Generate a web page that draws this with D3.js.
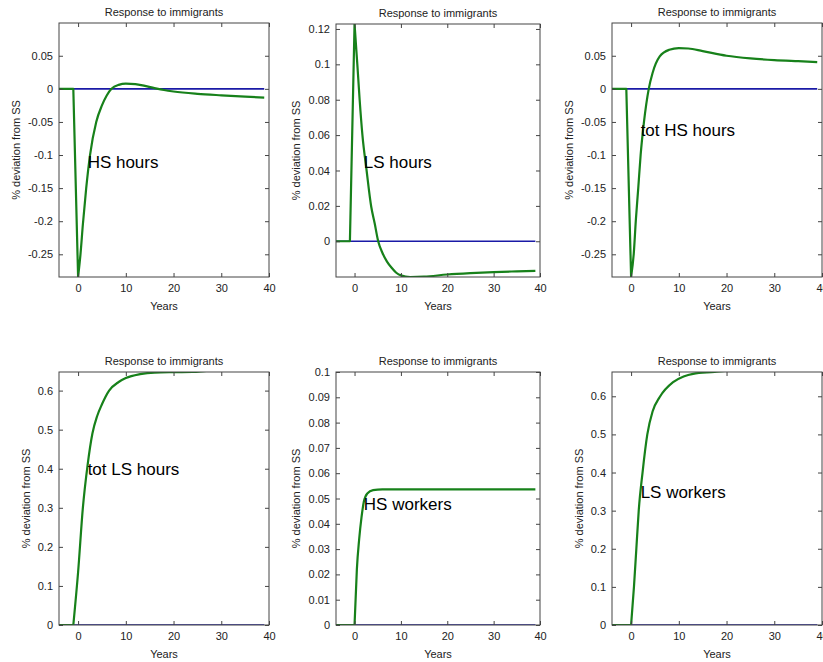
<!DOCTYPE html>
<html>
<head>
<meta charset="utf-8">
<script src="https://cdn.jsdelivr.net/npm/d3@7/dist/d3.min.js"></script>
<style>
  body { margin: 0; background: #fff; }
  svg { display: block; font-family: "Liberation Sans", Arial, sans-serif; }
  .tick text { fill: #222; font-size: 11px; }
  .tick line { stroke: #444; }
</style>
</head>
<body>
<svg id="chart" width="823" height="662"></svg>
<script>
// values (years, % deviation from SS)
const hsHoursX = [-4, -1, 0, 0.5, 1, 1.7, 2.5, 3.8, 5, 6, 7, 8.5, 10, 12, 14, 16, 18, 20, 25, 30, 35, 39]
const hsHoursY = [0, 0, -0.284, -0.25, -0.205, -0.15, -0.10, -0.05, -0.025, -0.01, 0, 0.006, 0.0078, 0.0072, 0.0045, 0.0012, -0.0018, -0.004, -0.0075, -0.0098, -0.0118, -0.0132]

const lsHoursX = [-4, -1, 0, 0.6, 1.1, 1.7, 2.6, 3.6, 4.35, 5.1, 6, 7, 8, 9, 10, 12, 15, 20, 25, 30, 35, 39]
const lsHoursY = [0, 0, 0.1228, 0.1, 0.08, 0.06, 0.04, 0.0195, 0.01, 0, -0.0065, -0.0115, -0.015, -0.0178, -0.0193, -0.0202, -0.0200, -0.0188, -0.0180, -0.0174, -0.0170, -0.0167]

const totHsHoursX = [-4, -1, 0, 0.56, 1, 1.5, 2, 2.7, 3.7, 4.5, 6, 8, 10, 12, 15, 20, 25, 30, 35, 39]
const totHsHoursY = [0, 0, -0.284, -0.249, -0.198, -0.15, -0.1, -0.05, 0, 0.024, 0.049, 0.059, 0.0616, 0.061, 0.057, 0.050, 0.046, 0.0435, 0.0418, 0.0405]

const totLsHoursX = [-4, -1, 0, 1, 2, 3, 4, 5, 6.5, 8.5, 10, 13, 16, 20, 24, 27, 30, 39]
const totLsHoursY = [0, 0, 0.135, 0.30, 0.41, 0.49, 0.535, 0.565, 0.60, 0.622, 0.632, 0.642, 0.6462, 0.6472, 0.6477, 0.6505, 0.6515, 0.6525]

const hsWorkersX = [-4, 0, 0.5, 1, 1.5, 2, 2.75, 4, 6, 10, 20, 30, 39]
const hsWorkersY = [0, 0, 0.022, 0.034, 0.0425, 0.0487, 0.052, 0.0533, 0.0536, 0.0536, 0.0536, 0.0536, 0.0536]

const lsWorkersX = [-4, 0, 0.6, 1.1, 1.6, 2.4, 3.4, 4.5, 6, 8.8, 11, 13, 17.5, 20, 25, 39]
const lsWorkersY = [0, 0, 0.1, 0.2, 0.3, 0.4, 0.5, 0.56, 0.598, 0.637, 0.652, 0.659, 0.6638, 0.6668, 0.668, 0.669]

const steadyX = [-4, 39]
const steadyY = [0, 0]

const xTicks = [0, 10, 20, 30, 40]
const yTicksHours = [-0.25, -0.2, -0.15, -0.1, -0.05, 0, 0.05]
const yTicksLsHours = [0, 0.02, 0.04, 0.06, 0.08, 0.1, 0.12]
const yTicksTens = [0, 0.1, 0.2, 0.3, 0.4, 0.5, 0.6]
const yTicksHsWorkers = [0, 0.01, 0.02, 0.03, 0.04, 0.05, 0.06, 0.07, 0.08, 0.09, 0.1]

const labels = ['HS hours', 'LS hours', 'tot HS hours', 'tot LS hours', 'HS workers', 'LS workers']
const labelPos = [[2, -0.11], [2, 0.045], [2, -0.063], [2, 0.4], [2, 0.048], [2, 0.35]]

// shock: year where the straight jump ends and the smooth response begins
const panels = [
  {x: hsHoursX, y: hsHoursY, shock: 0, ticks: yTicksHours, ylim: [-0.2843, 0.0995], box: [59, 269, 23, 277]},
  {x: lsHoursX, y: lsHoursY, shock: 0, ticks: yTicksLsHours, ylim: [-0.0202, 0.1228], box: [336, 540, 24, 277]},
  {x: totHsHoursX, y: totHsHoursY, shock: 0, ticks: yTicksHours, ylim: [-0.2843, 0.0995], box: [612, 822, 23, 277]},
  {x: totLsHoursX, y: totLsHoursY, shock: -1, ticks: yTicksTens, ylim: [0, 0.6476], box: [59, 269, 372, 625]},
  {x: hsWorkersX, y: hsWorkersY, shock: 0, ticks: yTicksHsWorkers, ylim: [0, 0.1], box: [336, 540, 372, 625]},
  {x: lsWorkersX, y: lsWorkersY, shock: 0, ticks: yTicksTens, ylim: [0, 0.6637], box: [612, 822, 372, 625]},
]

const fmt = v => String(+v.toFixed(4))

const svg = d3.select('#chart')

panels.forEach((p, i) => {
  const [x0, x1, y0, y1] = p.box
  const x = d3.scaleLinear().domain([-4, 40]).range([x0, x1])
  const y = d3.scaleLinear().domain(p.ylim).range([y1, y0])

  const g = svg.append('g')

  svg.append('clipPath').attr('id', 'clip' + i)
    .append('rect').attr('x', x0).attr('y', y0).attr('width', x1 - x0).attr('height', y1 - y0)

  const straight = d3.line().x(d => x(d[0])).y(d => y(d[1]))
  const smooth = d3.line().x(d => x(d[0])).y(d => y(d[1])).curve(d3.curveMonotoneX)

  const pts = d3.zip(p.x, p.y)
  const k = p.x.indexOf(p.shock)
  const path = straight(pts.slice(0, k + 1)) + smooth(pts.slice(k)).replace(/^M/, 'L')

  const plot = g.append('g').attr('clip-path', `url(#clip${i})`)
  plot.append('path')
    .attr('d', straight(d3.zip(steadyX, steadyY)))
    .attr('fill', 'none').attr('stroke', '#1a1aa6').attr('stroke-width', 1.6)
  plot.append('path')
    .attr('d', path)
    .attr('fill', 'none').attr('stroke', '#17811a').attr('stroke-width', 2.2)
    .attr('stroke-linejoin', 'round')

  const left = g.append('g').attr('transform', `translate(${x0},0)`)
    .call(d3.axisLeft(y).tickValues(p.ticks).tickFormat(fmt).tickSize(-4).tickPadding(6))
  g.append('g').attr('transform', `translate(${x1},0)`)
    .call(d3.axisRight(y).tickValues(p.ticks).tickFormat('').tickSize(-4))
  g.append('g').attr('transform', `translate(0,${y1})`)
    .call(d3.axisBottom(x).tickValues(xTicks).tickFormat(fmt).tickSize(-4).tickPadding(7))
  g.append('g').attr('transform', `translate(0,${y0})`)
    .call(d3.axisTop(x).tickValues(xTicks).tickFormat('').tickSize(-4))
  g.selectAll('.domain').remove()

  g.append('rect').attr('x', x0).attr('y', y0).attr('width', x1 - x0).attr('height', y1 - y0)
    .attr('fill', 'none').attr('stroke', '#444').attr('stroke-width', 1)

  g.append('text').attr('x', (x0 + x1) / 2).attr('y', y0 - 7.5)
    .attr('text-anchor', 'middle').attr('font-size', 11).attr('fill', '#222')
    .text('Response to immigrants')

  g.append('text').attr('x', (x0 + x1) / 2).attr('y', y1 + 32.5)
    .attr('text-anchor', 'middle').attr('font-size', 11).attr('fill', '#222')
    .text('Years')

  const bb = left.node().getBBox()
  const lx = x0 + bb.x - 12
  g.append('text')
    .attr('transform', `translate(${lx},${(y0 + y1) / 2}) rotate(-90)`)
    .attr('text-anchor', 'middle').attr('dy', '0.35em').attr('font-size', 11).attr('fill', '#222')
    .text('% deviation from SS')

  g.append('text').attr('x', x(labelPos[i][0])).attr('y', y(labelPos[i][1]))
    .attr('dy', '0.35em').attr('font-size', 17).attr('fill', '#000')
    .text(labels[i])
})
</script>
</body>
</html>
